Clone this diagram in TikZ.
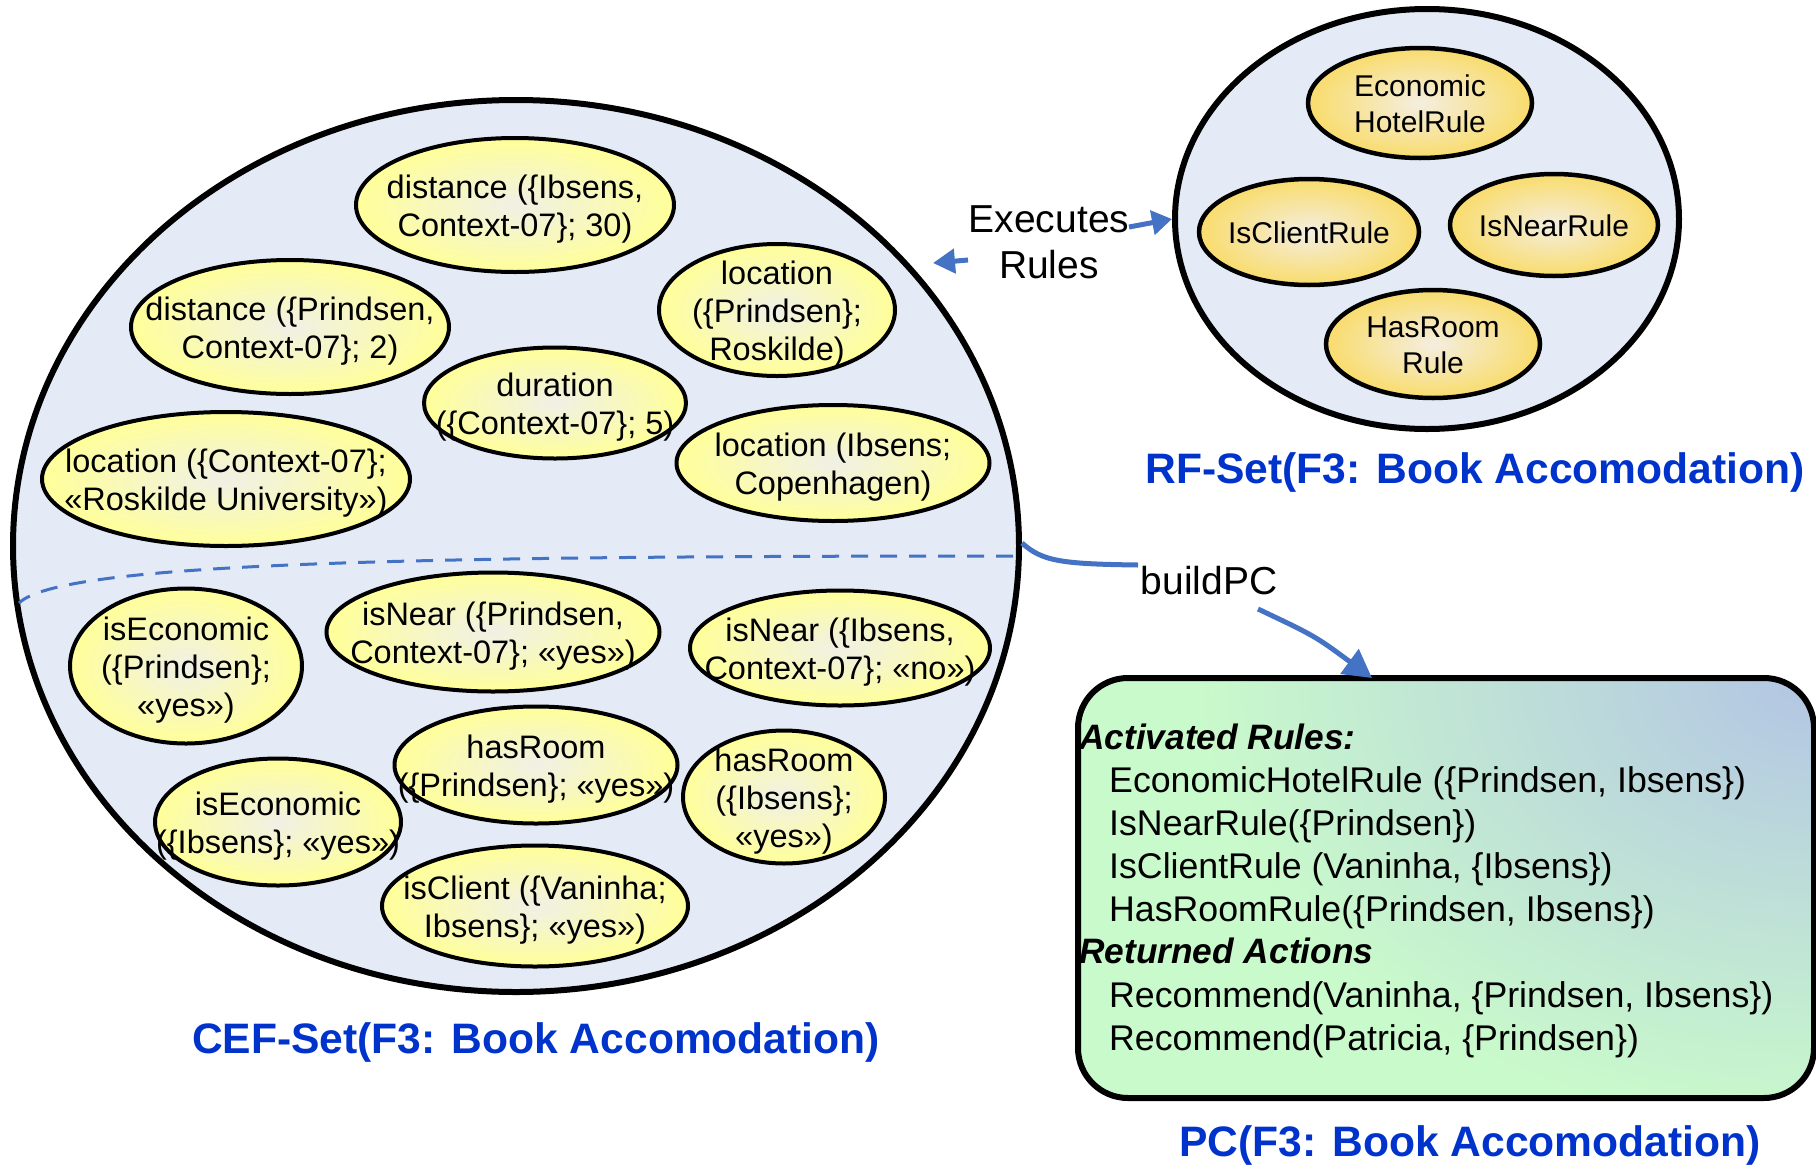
\documentclass[tikz,border=0pt]{standalone}
\usepackage{fontspec}
\setmainfont{Liberation Sans}
\usetikzlibrary{shapes.geometric,arrows.meta}

\definecolor{setfill}{HTML}{E4EBF6}
\definecolor{cefout}{HTML}{FFFF99}
\definecolor{cefin}{HTML}{F0F0E6}
\definecolor{rfout}{HTML}{F9DC6C}
\definecolor{rfin}{HTML}{F4EEE0}
\definecolor{linkblue}{HTML}{4472C4}
\definecolor{titleblue}{HTML}{0033CC}
\definecolor{pcgreen}{HTML}{C9FACB}
\definecolor{pcblue}{HTML}{B3C5E4}

% blue glow in the corner of the PC box, fading into green well inside the shaded path
\pgfdeclareradialshading{pcglow}{\pgfpoint{0bp}{0bp}}{color(0bp)=(pcblue); color(14bp)=(pcgreen); color(50bp)=(pcgreen)}

\begin{document}
\begin{tikzpicture}[x=1pt,y=-1pt,
  setell/.style={ellipse, draw, line width=6pt, fill=setfill, inner sep=0pt},
  cefell/.style={ellipse, draw, line width=4pt, inner color=cefin, outer color=cefout, inner sep=0pt},
  ceftxt/.style={align=center, font=\fontsize{32.5}{38}\selectfont, inner sep=0pt, yshift=-4pt},
  rfell/.style={ellipse, draw, line width=4.5pt, inner color=rfin, outer color=rfout, inner sep=0pt},
  rftxt/.style={align=center, font=\fontsize{30}{36}\selectfont, inner sep=0pt, yshift=-1pt},
  settitle/.style={font=\bfseries\fontsize{42.6}{50}\selectfont, text=titleblue, inner sep=0pt, yshift=-4pt},
  plaintxt/.style={font=\fontsize{39}{46}\selectfont, align=center, inner sep=0pt},
  pcbox/.style={rectangle, draw, line width=6pt, rounded corners=50pt, fill=pcgreen, inner sep=0pt,
    path picture={\shade[shading=pcglow]
      (path picture bounding box.north east) ellipse [x radius=1100pt, y radius=800pt];}},
  pcline/.style={anchor=base west, font=\fontsize{35.7}{43}\selectfont, inner sep=0pt},
  pchead/.style={pcline, font=\bfseries\itshape\fontsize{35.3}{43}\selectfont},
  link/.style={draw=linkblue, line width=5pt},
  divider/.style={draw=linkblue, line width=3pt, dash pattern=on 17pt off 12pt}
]
\useasboundingbox (0,0) rectangle (1816,1165);

% ---- CEF set ----
\node[setell, minimum width=1006pt, minimum height=892pt] (cef) at (516,546) {};
\draw[divider] (1013,556) .. controls (400,556) and (60,563) .. (19,603);

\node[cefell, minimum width=318pt, minimum height=134pt] (c1) at (515,205) {};
\node[ceftxt] (c1t) at (c1) {distance (\{Ibsens,\\Context-07\}; 30)};
\node[cefell, minimum width=318pt, minimum height=134pt] (c2) at (290,327) {};
\node[ceftxt] (c2t) at (c2) {distance (\{Prindsen,\\Context-07\}; 2)};
\node[cefell, minimum width=236pt, minimum height=132pt] (c3) at (777,310) {};
\node[ceftxt] (c3t) at (c3) {location\\(\{Prindsen\};\\Roskilde)};
\node[cefell, minimum width=262pt, minimum height=111pt] (c4) at (555,403) {};
\node[ceftxt] (c4t) at (c4) {duration\\(\{Context-07\}; 5)};
\node[cefell, minimum width=368pt, minimum height=134pt] (c5) at (226,479) {};
\node[ceftxt] (c5t) at (c5) {location (\{Context-07\};\\«Roskilde University»)};
\node[cefell, minimum width=313pt, minimum height=116pt] (c6) at (833,463) {};
\node[ceftxt] (c6t) at (c6) {location (Ibsens;\\Copenhagen)};

\node[cefell, minimum width=232pt, minimum height=155pt] (c7) at (186,666) {};
\node[ceftxt] (c7t) at (c7) {isEconomic\\(\{Prindsen\};\\«yes»)};
\node[cefell, minimum width=333pt, minimum height=119pt] (c8) at (493,632) {};
\node[ceftxt] (c8t) at (c8) {isNear (\{Prindsen,\\Context-07\}; «yes»)};
\node[cefell, minimum width=300pt, minimum height=115pt] (c9) at (840,648) {};
\node[ceftxt] (c9t) at (c9) {isNear (\{Ibsens,\\Context-07\}; «no»)};
\node[cefell, minimum width=283pt, minimum height=117pt] (c10) at (536,765) {};
\node[ceftxt] (c10t) at (c10) {hasRoom\\(\{Prindsen\}; «yes»)};
\node[cefell, minimum width=202pt, minimum height=133pt] (c11) at (784,797) {};
\node[ceftxt] (c11t) at (c11) {hasRoom\\(\{Ibsens\};\\«yes»)};
\node[cefell, minimum width=246pt, minimum height=127pt] (c12) at (278,822) {};
\node[ceftxt] (c12t) at (c12) {isEconomic\\(\{Ibsens\}; «yes»)};
\node[cefell, minimum width=306pt, minimum height=121pt] (c13) at (535,906) {};
\node[ceftxt] (c13t) at (c13) {isClient (\{Vaninha;\\Ibsens\}; «yes»)};

\node[settitle] (ceftitle) at (536,1038) {CEF-Set(F3: Book Accomodation)};

% ---- RF set ----
\node[setell, minimum width=504pt, minimum height=420pt] (rf) at (1427,219) {};
\node[rfell, minimum width=224pt, minimum height=110pt] (r1) at (1420,103) {};
\node[rftxt] (r1t) at (r1) {Economic\\HotelRule};
\node[rfell, minimum width=220pt, minimum height=106pt] (r2) at (1309,232) {};
\node[rftxt] (r2t) at (r2) {IsClientRule};
\node[rfell, minimum width=208pt, minimum height=102pt] (r3) at (1554,225) {};
\node[rftxt] (r3t) at (r3) {IsNearRule};
\node[rfell, minimum width=214pt, minimum height=108pt] (r4) at (1433,344) {};
\node[rftxt] (r4t) at (r4) {HasRoom\\Rule};

\node[settitle] (rftitle) at (1475,468) {RF-Set(F3: Book Accomodation)};

% ---- executes rules ----
\node[plaintxt] (exec) at (1049,242) {Executes\\Rules};
\coordinate (execout) at (1129,227);
\coordinate (backfrom) at (968,260);
\coordinate (backto) at (933,263);
\draw[link, -{Triangle[length=20pt,width=24pt]}] (execout) -- (rf.west);
\draw[link, -{Triangle[length=22pt,width=24pt]}] (backfrom) -- (backto);

% ---- PC ----
\node[pcbox, minimum width=736pt, minimum height=420pt] (pc) at (1446,888) {};
\node[pchead] (pc1) at (1079,749) {Activated Rules:};
\node[pcline] (pc2) at (1109,792) {EconomicHotelRule (\{Prindsen, Ibsens\})};
\node[pcline] (pc3) at (1109,835) {IsNearRule(\{Prindsen\})};
\node[pcline] (pc4) at (1109,878) {IsClientRule (Vaninha, \{Ibsens\})};
\node[pcline] (pc5) at (1109,921) {HasRoomRule(\{Prindsen, Ibsens\})};
\node[pchead] (pc6) at (1079,963) {Returned Actions};
\node[pcline] (pc7) at (1109,1007) {Recommend(Vaninha, \{Prindsen, Ibsens\})};
\node[pcline] (pc8) at (1109,1050) {Recommend(Patricia, \{Prindsen\})};

\node[settitle] (pctitle) at (1470,1141) {PC(F3: Book Accomodation)};

% ---- buildPC ----
\node[plaintxt] (build) at (1209,581) {buildPC};
\coordinate (cefexit) at (1022,543);
\coordinate (buildin) at (1138,565);
\coordinate (buildout) at (1258,609);
\coordinate (pcin) at (1372,678);
\draw[link] (cefexit) .. controls (1042,561) and (1060,564) .. (buildin);
\draw[link, -{Triangle[length=28pt,width=30pt]}] (buildout) .. controls (1315,636) .. (pcin);
\end{tikzpicture}
\end{document}
